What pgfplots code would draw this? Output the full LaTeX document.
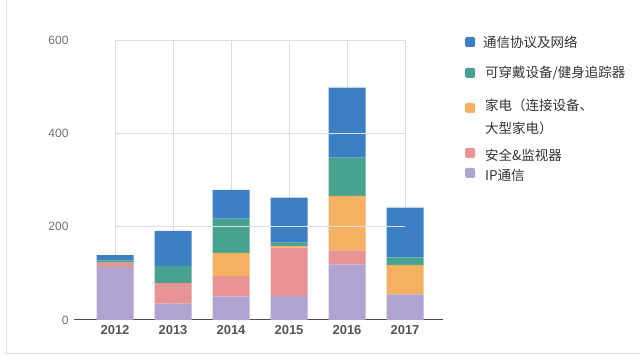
\documentclass[border=0pt]{standalone}
\usepackage{pgfplots}
\pgfplotsset{compat=1.18}
\usepackage{fontspec}
\setmainfont{Liberation Sans}
\newfontfamily\cjk{Noto Sans CJK SC}
\definecolor{cBlue}{RGB}{61,127,196}
\definecolor{cGreen}{RGB}{71,163,143}
\definecolor{cOrange}{RGB}{245,176,98}
\definecolor{cPink}{RGB}{232,148,148}
\definecolor{cPurple}{RGB}{176,163,210}
\definecolor{gridc}{RGB}{222,222,222}
\definecolor{tickc}{RGB}{110,110,110}
\definecolor{yearc}{RGB}{85,85,85}
\begin{document}
\begin{tikzpicture}[x=1pt,y=1pt]
\path[use as bounding box] (0,0) rectangle (640,356);
\draw[gray!25, line width=0.8pt] (6,356) -- (6,3) -- (640,3);
\begin{axis}[
  at={(74pt,36pt)}, anchor=south west,
  scale only axis, width=369pt, height=280pt,
  xmin=-0.707, xmax=5.655, ymin=0, ymax=600,
  ybar stacked, bar width=37pt,
  xtick={0,1,2,3,4,5},
  xticklabels={2012,2013,2014,2015,2016,2017},
  ytick={0,200,400,600},
  major tick length=0pt,
  xmajorgrids, grid style={gridc, line width=0.8pt},
  axis x line=bottom, axis y line=left,
  x axis line style={-, draw=black!70, line width=1pt},
  y axis line style={draw=none},
  /pgf/number format/assume math mode=true,
  yticklabel style={font=\fontsize{12}{14}\selectfont, text=tickc, anchor=east, xshift=-2pt},
  xticklabel style={font=\fontsize{13}{15}\selectfont\bfseries, text=yearc, yshift=-2pt},
  clip=false,
]
\draw[gridc, line width=0.8pt] (axis cs:0,200) -- (axis cs:5,200);
\draw[gridc, line width=0.8pt] (axis cs:0,400) -- (axis cs:5,400);
\draw[gridc, line width=0.8pt] (axis cs:0,600) -- (axis cs:5,600);
\addplot[fill=cPurple, draw=none] coordinates {(0,114) (1,35) (2,50) (3,51) (4,119) (5,55)};
\addplot[fill=cPink, draw=none] coordinates {(0,9) (1,44) (2,44) (3,104) (4,30) (5,0)};
\addplot[fill=cOrange, draw=none] coordinates {(0,0) (1,0) (2,50) (3,4) (4,117) (5,63)};
\addplot[fill=cGreen, draw=none] coordinates {(0,5) (1,37) (2,73) (3,7) (4,82) (5,16)};
\addplot[fill=cBlue, draw=none] coordinates {(0,11) (1,75) (2,62) (3,96) (4,150) (5,107)};
\end{axis}
% legend
\begin{scope}[every node/.style={anchor=west, text=black!80, font=\cjk\fontsize{13.5}{16}\selectfont, inner sep=0pt}]
\fill[cBlue, rounded corners=1.5pt] (465,309) rectangle +(10,10);
\node at (483,314) {通信协议及网络};
\fill[cGreen, rounded corners=1.5pt] (465,278) rectangle +(10,10);
\node at (485,283) {可穿戴设备/健身追踪器};
\fill[cOrange, rounded corners=1.5pt] (465,243) rectangle +(10,10);
\node at (485,251) {家电（连接设备、};
\node at (485,228) {大型家电）};
\fill[cPink, rounded corners=1.5pt] (465,198) rectangle +(10,10);
\node at (485,201) {安全\&监视器};
\fill[cPurple, rounded corners=1.5pt] (465,178) rectangle +(10,10);
\node at (485,181) {IP通信};
\end{scope}
\end{tikzpicture}
\end{document}
